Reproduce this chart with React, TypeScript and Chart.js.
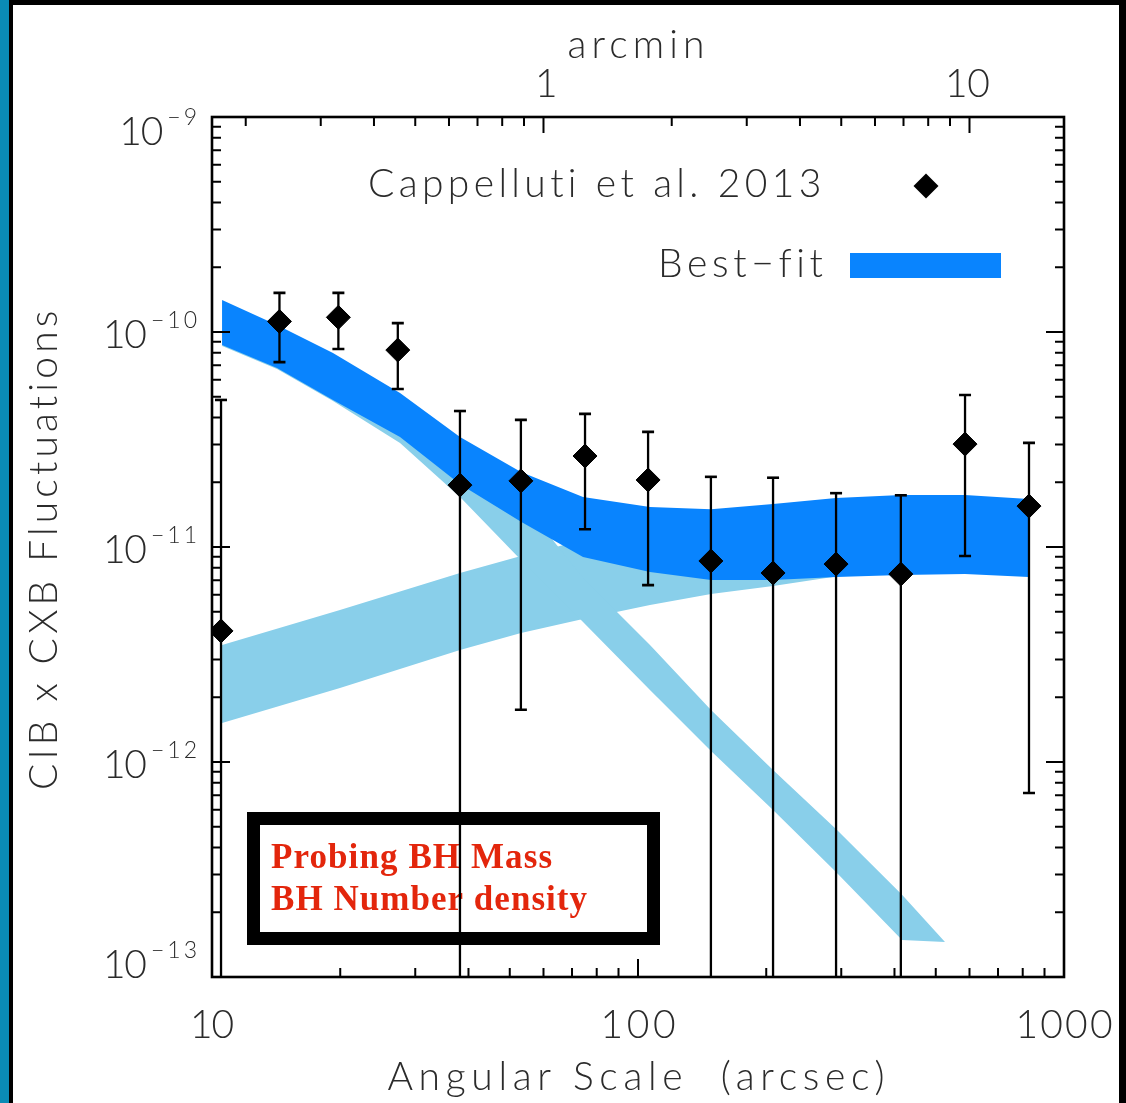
import React, { useEffect, useRef } from 'react';
import { Chart, registerables } from 'chart.js';

Chart.register(...registerables);

// ---- Data ----
// Cappelluti et al. 2013 measurements (angular scale in arcsec)
const pointX = [10.5, 14.4, 19.8, 27.3, 38.2, 53.1, 75.1, 105.6, 148.3, 207.5, 291.7, 414, 585.7, 827.6];
const pointY = [4.07e-12, 1.12e-10, 1.17e-10, 8.24e-11, 1.94e-11, 2.03e-11, 2.65e-11, 2.05e-11, 8.61e-12, 7.57e-12, 8.33e-12, 7.48e-12, 3.01e-11, 1.55e-11];
const errHigh = [4.83e-11, 1.52e-10, 1.52e-10, 1.1e-10, 4.29e-11, 3.9e-11, 4.16e-11, 3.43e-11, 2.12e-11, 2.1e-11, 1.78e-11, 1.74e-11, 5.09e-11, 3.05e-11];
// 0 = lower bound consistent with zero (bar runs off the bottom of the plot)
const errLow = [0, 7.24e-11, 8.34e-11, 5.43e-11, 0, 1.75e-12, 1.21e-11, 6.65e-12, 0, 0, 0, 0, 9.08e-12, 7.18e-13];

// Best-fit band
const bestX = [10.56, 14.21, 19.23, 27.63, 38.21, 53.13, 74.29, 106.7, 148.4, 207.5, 291.6, 414.5, 585.6, 827.8];
const bestUpper = [1.409e-10, 1.078e-10, 7.99e-11, 5.2e-11, 3.25e-11, 2.23e-11, 1.71e-11, 1.535e-11, 1.5e-11, 1.585e-11, 1.69e-11, 1.745e-11, 1.745e-11, 1.672e-11];
const bestLower = [8.7e-11, 6.8e-11, 4.83e-11, 3.25e-11, 1.96e-11, 1.31e-11, 8.98e-12, 7.65e-12, 7.02e-12, 7.02e-12, 7.25e-12, 7.41e-12, 7.49e-12, 7.25e-12];

// Decreasing component band
const decX = [10.56, 14.21, 19.23, 27.63, 38.21, 53.13, 74.29, 106.7, 148.4, 207.5, 291.6, 416.7, 525.7];
const decUpper = [1.379e-10, 1.055e-10, 7.73e-11, 4.93e-11, 2.98e-11, 1.654e-11, 7.17e-12, 3.5e-12, 1.745e-12, 9.18e-13, 4.88e-13, 2.41e-13, 1.455e-13];
const decLower = [8.61e-11, 6.73e-11, 4.78e-11, 3.05e-11, 1.708e-11, 8.7e-12, 4.48e-12, 2.16e-12, 1.125e-12, 5.98e-13, 3.08e-13, 1.486e-13, 1.455e-13];

// Increasing component band
const incX = [10.56, 19.97, 38.21, 53.13, 74.29, 106.7, 148.4, 207.5, 291.6, 414.5, 585.6, 827.8];
const incUpper = [3.5e-12, 5.09e-12, 7.57e-12, 9.08e-12, 1.078e-11, 1.2e-11, 1.266e-11, 1.307e-11, 1.335e-11, 1.335e-11, 1.335e-11, 1.307e-11];
const incLower = [1.518e-12, 2.21e-12, 3.32e-12, 3.98e-12, 4.62e-12, 5.37e-12, 6.04e-12, 6.58e-12, 7.3e-12, 7.5e-12, 7.6e-12, 7.3e-12];

// Tick labels
const yMajor = [1e-9, 1e-10, 1e-11, 1e-12, 1e-13];
const yExp = ['\u22129', '\u221210', '\u221211', '\u221212', '\u221213'];
const xMajor = [10, 100, 1000];
const xMajorLabels = ['10', '100', '1000'];
const topMajor = [1, 10];
const topMajorLabels = ['1', '10'];

const legendText = 'Cappelluti et al. 2013';
const legendFit = 'Best\u2212fit';
const xTitle = 'Angular Scale  (arcsec)';
const yTitle = 'CIB x CXB Fluctuations';
const topTitle = 'arcmin';
const noteLines = ['Probing BH Mass', 'BH Number density'];

const DARK_BLUE = '#0984fe';
const LIGHT_BLUE = '#89cfea';
const TEXT = '#2b2b2b';
const FONT = "Lato, 'DejaVu Sans', sans-serif";

function xy(xs: number[], ys: number[]) {
  return xs.map((x, i) => ({ x, y: ys[i] }));
}

function fitText(ctx: CanvasRenderingContext2D, text: string, x: number, y: number, width: number, align: 'left' | 'center' | 'right') {
  (ctx as any).letterSpacing = '0px';
  const w0 = ctx.measureText(text).width;
  const n = Array.from(text).length;
  const ls = n > 1 ? (width - w0) / (n - 1) : 0;
  (ctx as any).letterSpacing = ls + 'px';
  const left = align === 'left' ? x : align === 'center' ? x - width / 2 : x - width;
  ctx.textAlign = 'left';
  ctx.fillText(text, left, y);
  (ctx as any).letterSpacing = '0px';
}

const decorPlugin = {
  id: 'decor',
  beforeDraw(chart: any) {
    const { ctx, width, height } = chart;
    ctx.save();
    ctx.fillStyle = '#ffffff';
    ctx.fillRect(0, 0, width, height);
    ctx.fillStyle = '#0a8bb5';
    ctx.fillRect(0, 0, 9, height);
    ctx.fillStyle = '#000000';
    ctx.fillRect(9, 0, 4, height);
    ctx.fillRect(9, 0, width - 9, 5);
    ctx.fillRect(width - 7, 0, 7, height);
    ctx.restore();
  },
  afterDatasetsDraw(chart: any) {
    const { ctx, chartArea } = chart;
    const xs = chart.scales.x;
    const ys = chart.scales.y;
    const xt = chart.scales.xTop;
    const { left, right, top, bottom } = chartArea;
    ctx.save();

    // Annotation box
    ctx.strokeStyle = '#000';
    ctx.lineWidth = 13;
    ctx.strokeRect(253.5, 818.5, 400, 120);
    ctx.fillStyle = '#e3260c';
    ctx.font = "bold 35px 'Liberation Serif', 'Times New Roman', serif";
    ctx.textBaseline = 'alphabetic';
    fitText(ctx, noteLines[0], 271, 868, 281, 'left');
    fitText(ctx, noteLines[1], 271, 910, 316, 'left');

    // Error bars
    ctx.save();
    ctx.beginPath();
    ctx.rect(left, top, right - left, bottom - top);
    ctx.clip();
    ctx.strokeStyle = '#000';
    for (let i = 0; i < pointX.length; i++) {
      const px = xs.getPixelForValue(pointX[i]);
      const pt = ys.getPixelForValue(errHigh[i]);
      const pb = errLow[i] > 0 ? ys.getPixelForValue(errLow[i]) : bottom + 2;
      ctx.lineWidth = 2.3;
      ctx.beginPath();
      ctx.moveTo(px, pt);
      ctx.lineTo(px, pb);
      ctx.stroke();
      ctx.lineWidth = 2.6;
      ctx.beginPath();
      ctx.moveTo(px - 6, pt);
      ctx.lineTo(px + 6, pt);
      if (errLow[i] > 0) {
        ctx.moveTo(px - 6, pb);
        ctx.lineTo(px + 6, pb);
      }
      ctx.stroke();
    }
    ctx.restore();

    // Ticks
    ctx.strokeStyle = '#000';
    ctx.lineWidth = 2;
    ctx.beginPath();
    for (let d = -13; d <= -9; d++) {
      for (let m = 1; m <= 9; m++) {
        const v = m * Math.pow(10, d);
        if (v > 1.0000001e-9) break;
        const py = ys.getPixelForValue(v);
        const len = m === 1 ? 18 : 9;
        ctx.moveTo(left, py);
        ctx.lineTo(left + len, py);
        ctx.moveTo(right, py);
        ctx.lineTo(right - len, py);
      }
    }
    for (let d = 1; d <= 3; d++) {
      for (let m = 1; m <= 9; m++) {
        const v = m * Math.pow(10, d);
        if (v > 1000.0001) break;
        const px = xs.getPixelForValue(v);
        const len = m === 1 ? 18 : 9;
        ctx.moveTo(px, bottom);
        ctx.lineTo(px, bottom - len);
      }
    }
    for (let d = -1; d <= 1; d++) {
      for (let m = 1; m <= 9; m++) {
        const v = m * Math.pow(10, d);
        if (v < 10 / 60 || v > 1000 / 60) continue;
        const px = xt.getPixelForValue(v);
        const len = m === 1 ? 16 : 9;
        ctx.moveTo(px, top);
        ctx.lineTo(px, top + len);
      }
    }
    ctx.stroke();

    // Frame
    ctx.lineWidth = 2.6;
    ctx.strokeRect(left, top, right - left, bottom - top);

    // Tick labels
    ctx.fillStyle = TEXT;
    ctx.textBaseline = 'alphabetic';
    for (let i = 0; i < yMajor.length; i++) {
      const py = ys.getPixelForValue(yMajor[i]);
      const off = i === 0 ? 28 : i === yMajor.length - 1 ? 1 : 16;
      const base = py + off;
      ctx.font = `300 23px ${FONT}`;
      (ctx as any).letterSpacing = '3px';
      const supW = ctx.measureText(yExp[i]).width - 3;
      ctx.textAlign = 'left';
      ctx.fillText(yExp[i], 197 - supW, base - 20);
      (ctx as any).letterSpacing = '0px';
      ctx.font = `300 39px ${FONT}`;
      fitText(ctx, '10', 197 - supW - 4, base, 44, 'right');
    }
    ctx.font = `300 39px ${FONT}`;
    const xw = [44, 75, 97];
    for (let i = 0; i < xMajor.length; i++) {
      fitText(ctx, xMajorLabels[i], xs.getPixelForValue(xMajor[i]), 1038, xw[i], 'center');
    }
    const tw = [13, 45];
    for (let i = 0; i < topMajor.length; i++) {
      fitText(ctx, topMajorLabels[i], xt.getPixelForValue(topMajor[i]) - 2, 97, tw[i], 'center');
    }

    // Axis titles
    fitText(ctx, topTitle, 636, 58, 137, 'center');
    fitText(ctx, xTitle, 636, 1090, 497, 'center');
    ctx.save();
    ctx.translate(57, 550);
    ctx.rotate(-Math.PI / 2);
    fitText(ctx, yTitle, 0, 0, 480, 'center');
    ctx.restore();

    // Legend
    fitText(ctx, legendText, 368, 197, 454, 'left');
    fitText(ctx, legendFit, 658, 277, 164, 'left');
    ctx.fillStyle = '#000';
    ctx.beginPath();
    ctx.moveTo(926 - 12.5, 186);
    ctx.lineTo(926, 186 - 12.5);
    ctx.lineTo(926 + 12.5, 186);
    ctx.lineTo(926, 186 + 12.5);
    ctx.closePath();
    ctx.fill();
    ctx.fillStyle = DARK_BLUE;
    ctx.fillRect(850, 253, 151, 25);

    ctx.restore();
  },
};

export default function App() {
  const ref = useRef<HTMLCanvasElement | null>(null);
  useEffect(() => {
    document.body.style.margin = '0';
    const canvas = ref.current;
    if (!canvas) return;
    const band = (xs: number[], ys: number[], color: string | false) => ({
      type: 'line' as const,
      data: xy(xs, ys),
      borderColor: 'rgba(0,0,0,0)',
      borderWidth: 0,
      pointRadius: 0,
      backgroundColor: color || 'rgba(0,0,0,0)',
      fill: color ? '+1' : false,
      tension: 0,
    });
    const chart = new Chart(canvas, {
      type: 'line',
      data: {
        datasets: [
          {
            type: 'line',
            label: legendText,
            data: xy(pointX, pointY),
            showLine: false,
            pointStyle: 'rectRot',
            pointRadius: 12,
            pointBackgroundColor: '#000',
            pointBorderColor: '#000',
            pointBorderWidth: 1,
          } as any,
          band(bestX, bestUpper, DARK_BLUE),
          band(bestX, bestLower, false),
          band(decX, decUpper, LIGHT_BLUE),
          band(decX, decLower, false),
          band(incX, incUpper, LIGHT_BLUE),
          band(incX, incLower, false),
        ],
      },
      options: {
        responsive: false,
        animation: false,
        events: [],
        layout: { padding: { left: 212, top: 117, right: 62, bottom: 126 } },
        plugins: { legend: { display: false }, tooltip: { enabled: false } },
        scales: {
          x: { type: 'logarithmic', min: 10, max: 1000, display: false },
          xTop: { type: 'logarithmic', position: 'top', axis: 'x', min: 10 / 60, max: 1000 / 60, display: false },
          y: { type: 'logarithmic', min: 1e-13, max: 1e-9, display: false },
        },
      } as any,
      plugins: [decorPlugin],
    });
    return () => chart.destroy();
  }, []);
  return <canvas ref={ref} width={1126} height={1103} style={{ display: 'block' }} />;
}
